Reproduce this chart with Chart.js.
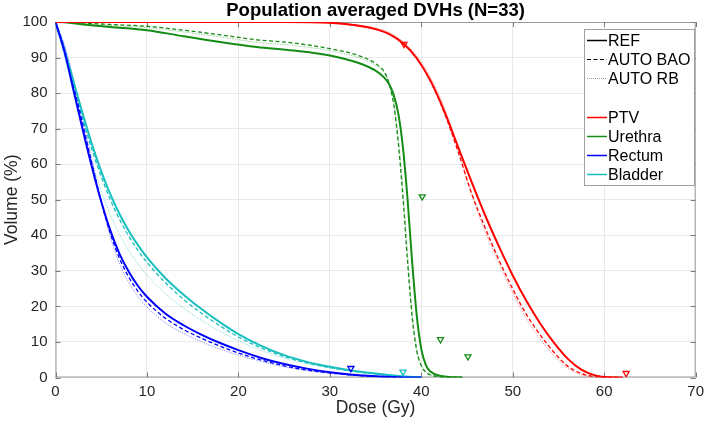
<!DOCTYPE html>
<html>
<head>
<meta charset="utf-8">
<script src="https://cdn.jsdelivr.net/npm/chart.js@4.4.1/dist/chart.umd.min.js"></script>
<style>
  html, body { margin: 0; padding: 0; background: #fff; }
  #wrap { width: 709px; height: 427px; }
</style>
</head>
<body>
<div id="wrap"><canvas id="dvhChart" width="709" height="427"></canvas></div>
<script>
// ---- data (dose in Gy, volume in %) ----
const chartTitle = 'Population averaged DVHs (N=33)';
const planNames = ['REF', 'AUTO BAO', 'AUTO RB'];
const structureNames = ['PTV', 'Urethra', 'Rectum', 'Bladder'];
const xTicks = [0, 10, 20, 30, 40, 50, 60, 70];
const yTicks = [0, 10, 20, 30, 40, 50, 60, 70, 80, 90, 100];

const ptvDose = [0, 25, 30, 33, 35, 36.5, 38, 39.5, 41, 42.5, 44, 45.5, 47, 48.5, 50, 51.5, 53, 54.5, 56, 57.5, 59, 60.5, 62];
const ptvRef  = [100, 100, 99.8, 99, 98, 96.6, 94, 89.8, 83.5, 75, 65, 55, 45.5, 36.8, 28.7, 21.5, 15.2, 9.8, 5.3, 2.2, 0.6, 0.05, 0];
const ptvBao  = [100, 100, 99.8, 99, 98, 96.6, 94, 89.8, 83.3, 74.6, 63.7, 51.8, 42, 33, 24.9, 17.7, 12, 7.1, 3.2, 1.1, 0.2, 0, 0];
const ptvRb   = [100, 100, 99.8, 99.2, 98.3, 97.1, 94.5, 90.5, 84.5, 76, 64.5, 51.5, 41, 32, 23.8, 16.5, 10.8, 6.2, 2.6, 0.8, 0.1, 0, 0];

const urethraDose = [0, 1, 3, 6, 10, 14, 18, 22, 26, 30, 33, 35, 36, 36.5, 37, 37.5, 38, 38.5, 39, 39.5, 40, 40.5, 41, 42, 43, 44.5];
const urethraRef  = [100, 99.9, 99.3, 98.6, 97.7, 96, 94.4, 93, 92, 90.6, 88.6, 86.3, 84.2, 82.4, 79.3, 74, 64.5, 50, 32.5, 17.5, 8, 3.5, 1.7, 0.5, 0.15, 0];
const urethraBao  = [100, 100, 99.7, 99.3, 98.8, 97.7, 96.4, 95, 94.1, 92.5, 90.7, 88.3, 85.8, 82.5, 76.5, 65.5, 50.5, 32.5, 17, 7.5, 3.3, 1.5, 0.7, 0.2, 0.05, 0];
const urethraRb   = [100, 99.9, 99.5, 99, 98.4, 97.2, 95.8, 94.3, 93.4, 91.9, 90.1, 87.8, 85.5, 82.5, 77, 67, 52.5, 34.5, 18.5, 8.3, 3.6, 1.6, 0.75, 0.2, 0.05, 0];

const oarDose    = [0, 1, 2, 3, 4, 5, 6, 7, 8, 9, 10, 12, 14, 16, 18, 20, 22.5, 25, 27.5, 30, 32.5, 35, 37.5, 40];
const rectumRef  = [100, 91.5, 80.5, 69.5, 59, 49.5, 41.3, 34.8, 29.8, 25.8, 22.7, 18, 14.7, 12, 9.7, 7.7, 5.5, 3.8, 2.5, 1.5, 0.8, 0.35, 0.1, 0];
const rectumBao  = [100, 92.5, 82, 71, 60, 49.5, 40.5, 33.5, 28.3, 24.3, 21.2, 16.7, 13.5, 11, 8.8, 6.9, 4.9, 3.3, 2.1, 1.3, 0.7, 0.3, 0.08, 0];
const rectumRb   = [100, 93.5, 83.5, 72.5, 61, 49.5, 39.5, 32, 26.8, 22.8, 19.8, 15.4, 12.4, 10, 8, 6.3, 4.5, 3, 1.9, 1.15, 0.6, 0.25, 0.07, 0];
const bladderRef = [100, 92, 83, 74, 65.5, 58, 51.5, 46, 41.3, 37.3, 33.8, 28, 23.3, 19.2, 15.5, 12.2, 8.9, 6.3, 4.4, 3, 1.9, 1.1, 0.45, 0.05];
const bladderBao = [100, 91, 81.5, 72.5, 64, 56.5, 50, 44.5, 39.8, 35.8, 32.4, 26.7, 22, 18, 14.5, 11.4, 8.3, 5.9, 4.1, 2.8, 1.8, 1, 0.4, 0.03];
const bladderRb  = [100, 90, 79.5, 69.5, 60.5, 52.5, 45.8, 40.3, 35.8, 32, 28.8, 23.6, 19.5, 16, 13, 10.3, 7.6, 5.5, 3.9, 2.7, 1.7, 1, 0.4, 0.03];

// constraint markers (downward triangles)
const ptvMarkDose = [38.1, 62.4];
const ptvMarkVol = [93.8, 1.2];
const urethraMarkDose = [40.1, 42.1, 45.1];
const urethraMarkVol = [50.9, 10.7, 5.9];
const rectumMarkDose = [32.3];
const rectumMarkVol = [2.6];
const bladderMarkDose = [38.0];
const bladderMarkVol = [1.6];

const colors = ['#ff0000', '#158c15', '#0000ff', '#17bfbf'];
const fadedColors = ['rgba(255,0,0,0.45)', 'rgba(21,140,21,0.45)', 'rgba(0,0,255,0.45)', 'rgba(23,191,191,0.5)'];

function pts(xs, ys) {
    return xs.map((x, i) => ({ x: x, y: ys[i] }));
}

const curves = [
    [ptvDose, ptvRef, ptvBao, ptvRb],
    [urethraDose, urethraRef, urethraBao, urethraRb],
    [oarDose, rectumRef, rectumBao, rectumRb],
    [oarDose, bladderRef, bladderBao, bladderRb]
];
const marks = [
    [ptvMarkDose, ptvMarkVol],
    [urethraMarkDose, urethraMarkVol],
    [rectumMarkDose, rectumMarkVol],
    [bladderMarkDose, bladderMarkVol]
];

const datasets = [];
// markers first so they are drawn on top
marks.forEach((m, s) => {
    datasets.push({
        label: structureNames[s] + ' constraint',
        data: pts(m[0], m[1]),
        showLine: false,
        pointStyle: 'triangle',
        rotation: 180,
        radius: 3.5,
        borderWidth: 1.3,
        borderColor: colors[s],
        backgroundColor: 'rgba(255,255,255,0)'
    });
});
// REF solid, then AUTO BAO dashed, then AUTO RB dotted
curves.forEach((c, s) => {
    datasets.push({ label: structureNames[s] + ' ' + planNames[0], data: pts(c[0], c[1]),
        borderColor: colors[s], borderWidth: 2, pointRadius: 0, cubicInterpolationMode: 'monotone' });
});
curves.forEach((c, s) => {
    datasets.push({ label: structureNames[s] + ' ' + planNames[1], data: pts(c[0], c[2]),
        borderColor: colors[s], borderWidth: 1.3, borderDash: [4, 2.5], pointRadius: 0, cubicInterpolationMode: 'monotone' });
});
curves.forEach((c, s) => {
    datasets.push({ label: structureNames[s] + ' ' + planNames[2], data: pts(c[0], c[3]),
        borderColor: fadedColors[s], borderWidth: 1, borderDash: [1.2, 1.2], pointRadius: 0, cubicInterpolationMode: 'monotone' });
});

const FONT = "'Liberation Sans', Arial, Helvetica, sans-serif";

// box, inward tick marks, title over the plot area and the legend
const axesBox = {
    id: 'axesBox',
    beforeDatasetsDraw(chart) {
        const { ctx, chartArea: a, scales } = chart;
        ctx.save();
        ctx.strokeStyle = '#9a9a9a';
        ctx.lineWidth = 1;
        ctx.strokeRect(a.left + 0.5, a.top + 0.5, a.right - a.left - 1, a.bottom - a.top - 1);
        ctx.strokeStyle = '#7a7a7a';
        ctx.beginPath();
        xTicks.forEach(t => {
            const px = Math.round(scales.x.getPixelForValue(t)) + 0.5;
            ctx.moveTo(px, a.bottom); ctx.lineTo(px, a.bottom - 5);
            ctx.moveTo(px, a.top); ctx.lineTo(px, a.top + 5);
        });
        yTicks.forEach(t => {
            const py = Math.round(scales.y.getPixelForValue(t)) + 0.5;
            ctx.moveTo(a.left, py); ctx.lineTo(a.left + 5, py);
            ctx.moveTo(a.right, py); ctx.lineTo(a.right - 5, py);
        });
        ctx.stroke();
        ctx.restore();
    },
    afterDraw(chart) {
        const { ctx, chartArea: a } = chart;
        ctx.save();
        ctx.fillStyle = '#000';
        ctx.font = 'bold 18.5px ' + FONT;
        ctx.textAlign = 'center';
        ctx.textBaseline = 'middle';
        ctx.fillText(chartTitle, (a.left + a.right) / 2, 11);

        ctx.textAlign = 'left';
        ctx.fillStyle = '#fff';
        ctx.strokeStyle = '#a0a0a0';
        ctx.lineWidth = 1;
        ctx.fillRect(584.5, 29.5, 110, 156);
        ctx.strokeRect(584.5, 29.5, 110, 156);
        const rows = [
            { text: planNames[0], color: '#000', w: 1.5, dash: [], y: 40.5 },
            { text: planNames[1], color: '#000', w: 1, dash: [4, 2.5], y: 59.5 },
            { text: planNames[2], color: 'rgba(0,0,0,0.4)', w: 1, dash: [1, 1], y: 78.5 },
            { text: structureNames[0], color: colors[0], w: 1.5, dash: [], y: 117.5 },
            { text: structureNames[1], color: colors[1], w: 1.5, dash: [], y: 136.5 },
            { text: structureNames[2], color: colors[2], w: 1.5, dash: [], y: 155.5 },
            { text: structureNames[3], color: colors[3], w: 1.5, dash: [], y: 174.5 }
        ];
        ctx.font = '16px ' + FONT;
        rows.forEach(r => {
            ctx.beginPath();
            ctx.setLineDash(r.dash);
            ctx.strokeStyle = r.color;
            ctx.lineWidth = r.w;
            ctx.moveTo(587, r.y); ctx.lineTo(607, r.y);
            ctx.stroke();
            ctx.fillStyle = '#000';
            ctx.fillText(r.text, 608, r.y + 1);
        });
        ctx.restore();
    }
};

const ctx = document.getElementById('dvhChart').getContext('2d');
new Chart(ctx, {
    type: 'line',
    data: { datasets: datasets },
    options: {
        responsive: false,
        animation: false,
        layout: { padding: { left: 0, right: 8, top: 22, bottom: 0 } },
        plugins: {
            legend: { display: false },
            tooltip: { enabled: false },
            title: { display: false }
        },
        scales: {
            x: {
                type: 'linear',
                min: 0, max: 70,
                afterFit: s => { s.height = 49.5; },
                afterBuildTicks: s => { s.ticks = xTicks.map(v => ({ value: v })); },
                grid: { color: '#e9e9e9', drawTicks: false },
                border: { display: false },
                ticks: { color: '#262626', font: { family: FONT, size: 15 }, padding: 5, maxRotation: 0 },
                title: { display: true, text: 'Dose (Gy)', color: '#262626',
                    font: { family: FONT, size: 17.5, lineHeight: 1.2 }, padding: { top: 0, bottom: 8 } }
            },
            y: {
                min: 0, max: 100,
                afterFit: s => { s.width = 55.5; },
                afterBuildTicks: s => { s.ticks = yTicks.map(v => ({ value: v })); },
                grid: { color: '#e9e9e9', drawTicks: false },
                border: { display: false },
                ticks: { color: '#262626', font: { family: FONT, size: 15 }, padding: 8 },
                title: { display: true, text: 'Volume (%)', color: '#262626',
                    font: { family: FONT, size: 17.5, lineHeight: 1.2 }, padding: { top: 2, bottom: 0 } }
            }
        }
    },
    plugins: [axesBox]
});
</script>
</body>
</html>
